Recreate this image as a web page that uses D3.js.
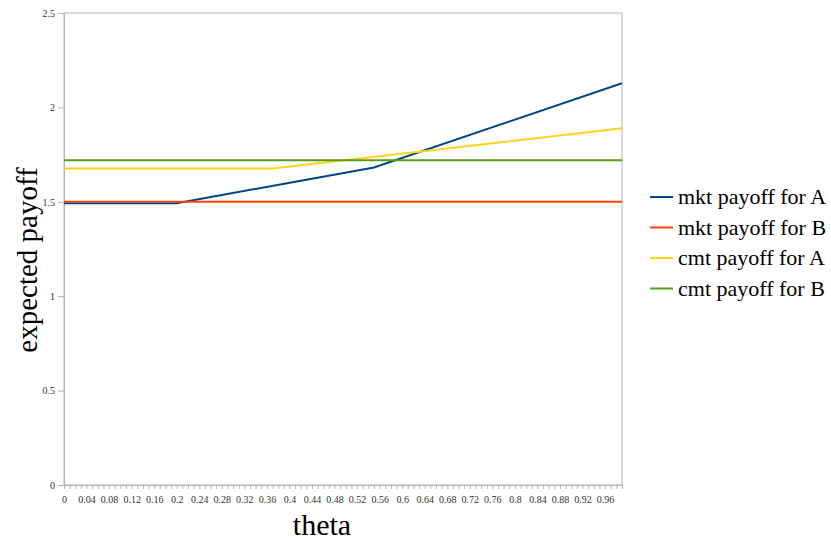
<!DOCTYPE html>
<html>
<head>
<meta charset="utf-8">
<script src="https://cdn.jsdelivr.net/npm/d3@7"></script>
<style>
  html, body { margin: 0; padding: 0; background: #fff; }
  svg { display: block; }
  svg text { font-family: "Liberation Serif", "Times New Roman", "DejaVu Serif", serif; }
</style>
</head>
<body>
<svg id="chart" width="831" height="546"></svg>
<script>
// theta categories 0.00 … 0.99
const thetaCategories = d3.range(100).map(i => +(i / 100).toFixed(2));
const thetaLabels = thetaCategories.filter((d, i) => i % 4 === 0);
const yTicks = [0, 0.5, 1, 1.5, 2, 2.5];

// breakpoints of each piecewise-linear payoff curve: [theta, payoff]
const mktA = [[0, 1.4925], [0.2, 1.4925], [0.55, 1.682], [0.99, 2.128]];
const mktB = [[0, 1.5], [0.99, 1.5]];
const cmtA = [[0, 1.677], [0.37, 1.677], [0.99, 1.889]];
const cmtB = [[0, 1.72], [0.99, 1.72]];

const seriesNames = ["mkt payoff for A", "mkt payoff for B", "cmt payoff for A", "cmt payoff for B"];
const seriesColors = ["#004586", "#ff420e", "#ffd320", "#579d1c"];
const seriesData = [mktA, mktB, cmtA, cmtB];

const svg = d3.select("#chart");
const plot = { left: 64, right: 622, top: 13, bottom: 485 };

const x = d3.scaleLinear().domain([0, 0.99]).range([plot.left, plot.right]);
const y = d3.scaleLinear().domain([0, 2.5]).range([plot.bottom, plot.top]);

// plot frame
svg.append("rect")
  .attr("x", plot.left).attr("y", plot.top)
  .attr("width", plot.right - plot.left).attr("height", plot.bottom - plot.top)
  .attr("fill", "none").attr("stroke", "#b3b3b3").attr("stroke-width", 1);

// y axis
const yAxis = svg.append("g")
  .attr("transform", `translate(${plot.left},0)`)
  .call(d3.axisLeft(y).tickValues(yTicks).tickSize(6).tickPadding(3).tickFormat(d3.format("")));
yAxis.attr("font-family", null);
yAxis.select(".domain").attr("stroke", "#b3b3b3");
yAxis.selectAll(".tick line").attr("stroke", "#b3b3b3");
yAxis.selectAll(".tick text").attr("font-size", 10).attr("fill", "#333");

// x axis: a tick for every category, a label for every fourth
const xAxis = svg.append("g")
  .attr("transform", `translate(0,${plot.bottom})`)
  .call(d3.axisBottom(x).tickValues(thetaCategories).tickSize(4).tickPadding(7)
    .tickFormat(d => thetaLabels.includes(d) ? d3.format("")(d) : ""));
xAxis.attr("font-family", null);
xAxis.select(".domain").attr("stroke", "#b3b3b3");
xAxis.selectAll(".tick line").attr("stroke", "#b3b3b3");
xAxis.selectAll(".tick text").attr("font-size", 10).attr("fill", "#333");

// payoff lines
const line = d3.line().x(d => x(d[0])).y(d => y(d[1]));
seriesData.forEach((data, i) => {
  svg.append("path")
    .datum(data)
    .attr("d", line)
    .attr("fill", "none")
    .attr("stroke", seriesColors[i])
    .attr("stroke-width", 2);
});

// axis titles
svg.append("text")
  .attr("x", 322).attr("y", 535)
  .attr("text-anchor", "middle")
  .attr("font-size", 30).attr("fill", "#000")
  .text("theta");

svg.append("text")
  .attr("transform", `translate(37,260) rotate(-90)`)
  .attr("text-anchor", "middle")
  .attr("font-size", 29).attr("fill", "#000")
  .text("expected payoff");

// legend
const legend = svg.append("g").attr("transform", "translate(650,197)");
seriesNames.forEach((name, i) => {
  const g = legend.append("g").attr("transform", `translate(0,${i * 30.5})`);
  g.append("line").attr("x1", 0).attr("x2", 23).attr("y1", 0).attr("y2", 0)
    .attr("stroke", seriesColors[i]).attr("stroke-width", 2);
  g.append("text").attr("x", 28).attr("y", 7)
    .attr("font-size", 22).attr("fill", "#000")
    .text(name);
});
</script>
</body>
</html>
